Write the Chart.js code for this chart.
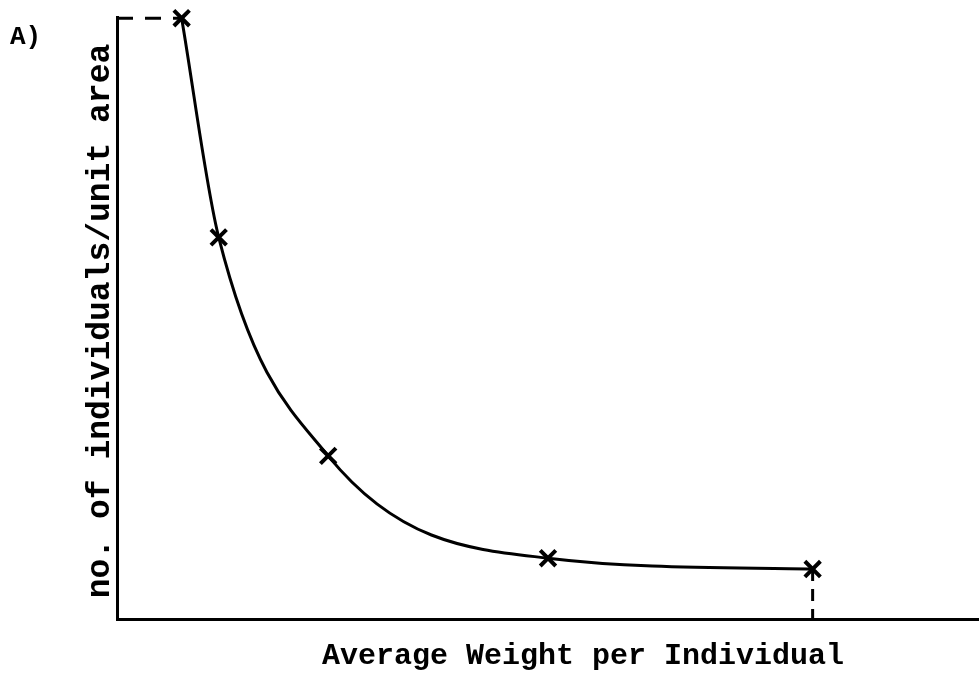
<!DOCTYPE html>
<html>
<head>
<meta charset="utf-8">
<script src="https://cdn.jsdelivr.net/npm/chart.js@4"></script>
<style>
html,body{margin:0;padding:0;background:#fff;}
#wrap{width:979px;height:677px;position:relative;}
</style>
</head>
<body>
<div id="wrap"><canvas id="c" width="979" height="677"></canvas></div>
<script>
// Data (arbitrary units, axes 0..10)
const weights = [0.75, 1.18, 2.45, 5.0, 8.07];
const densities = [9.98, 6.34, 2.71, 1.01, 0.83];
const xTitle = "Average Weight per Individual";
const yTitle = "no. of individuals/unit area";
const panelLabel = "A)";

const curve = weights.map((w, i) => ({x: w, y: densities[i]}));
const dashTop = [{x: 0, y: densities[0]}, {x: weights[0], y: densities[0]}];
const last = weights.length - 1;
const dashRight = [{x: weights[last], y: densities[last]}, {x: weights[last], y: 0}];

const textPlugin = {
  id: 'texts',
  afterDraw(chart) {
    const ctx = chart.ctx;
    ctx.save();
    ctx.fillStyle = '#000';
    ctx.font = 'bold 26px "Liberation Mono", monospace';
    ctx.textAlign = 'left';
    ctx.textBaseline = 'alphabetic';
    ctx.fillText(panelLabel, 10, 44);
    ctx.font = 'bold 30px "Liberation Mono", monospace';
    ctx.textAlign = 'center';
    ctx.textBaseline = 'middle';
    ctx.fillText(xTitle, 583, 656);
    ctx.translate(101, 321);
    ctx.rotate(-Math.PI / 2);
    ctx.font = 'bold 33px "Liberation Mono", monospace';
    ctx.fillText(yTitle, 0, 0);
    ctx.restore();
  }
};

new Chart(document.getElementById('c'), {
  type: 'scatter',
  data: {
    datasets: [
      {
        data: curve,
        showLine: true,
        borderColor: '#000',
        borderWidth: 3,
        cubicInterpolationMode: 'monotone',
        pointStyle: 'crossRot',
        pointRadius: 11,
        pointBorderWidth: 4,
        pointBorderColor: '#000',
        pointBackgroundColor: '#000',
        clip: false
      },
      {
        data: dashTop,
        showLine: true,
        borderColor: '#000',
        borderWidth: 3,
        borderDash: [16, 12],
        pointRadius: 0,
        clip: false
      },
      {
        data: dashRight,
        showLine: true,
        borderColor: '#000',
        borderWidth: 3,
        borderDash: [12, 8],
        pointRadius: 0,
        clip: false
      }
    ]
  },
  options: {
    responsive: false,
    animation: false,
    devicePixelRatio: 1,
    layout: {autoPadding: false, padding: {left: 117, top: 17, right: 0, bottom: 58}},
    plugins: {legend: {display: false}, tooltip: {enabled: false}, title: {display: false}},
    scales: {
      x: {
        type: 'linear', min: 0, max: 10,
        grid: {display: false, drawTicks: false},
        ticks: {display: false},
        border: {display: true, color: '#000', width: 3}
      },
      y: {
        type: 'linear', min: 0, max: 10,
        grid: {display: false, drawTicks: false},
        ticks: {display: false},
        border: {display: true, color: '#000', width: 3}
      }
    }
  },
  plugins: [textPlugin]
});
</script>
</body>
</html>
